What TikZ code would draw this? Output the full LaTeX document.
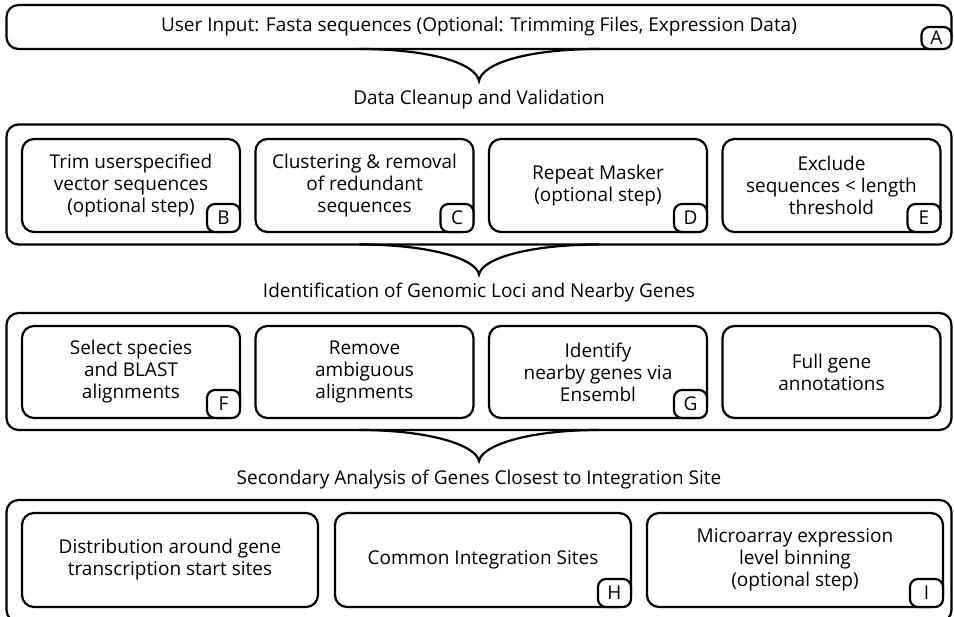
\documentclass[tikz,border=0pt]{standalone}
\usepackage{fontspec}
\setmainfont{Open Sans}
\begin{document}
\begin{tikzpicture}[x=1pt,y=-1pt,
 txt/.style={font=\fontsize{19}{22}\selectfont},
 outerbox/.style={draw, line width=2.2pt, rounded corners=12pt, inner sep=0pt, outer sep=0pt, minimum width=945pt, txt},
 box/.style={draw, line width=2.2pt, rounded corners=12pt, inner sep=0pt, outer sep=0pt, align=center, txt},
 lbl/.style={draw, fill=white, line width=2.2pt, rounded corners=8pt, minimum width=33pt, minimum height=28pt, inner sep=0pt, outer sep=0pt, anchor=south east, txt},
 brace/.style={line width=2.2pt}]
\clip (0,0) rectangle (954,617);
% outer boxes
\node[outerbox, minimum height=44pt] (o1) at (479,27) {User Input: Fasta sequences (Optional: Trimming Files, Expression Data)};
\node[outerbox, minimum height=120pt] (o2) at (479,184.5) {};
\node[outerbox, minimum height=117pt] (o3) at (479,371.5) {};
\node[outerbox, minimum height=122pt] (o4) at (479,561) {};
% titles
\node[txt] (t1) at (479,100) {Data Cleanup and Validation};
\node[txt] (t2) at (479,293) {Identification of Genomic Loci and Nearby Genes};
\node[txt] (t3) at (479,480) {Secondary Analysis of Genes Closest to Integration Site};
% braces
\coordinate (b1) at ([yshift=-32pt]o1.south);
\coordinate (b2) at ([yshift=-30pt]o2.south);
\coordinate (b3) at ([yshift=-31pt]o3.south);
\draw[brace] ([xshift=-120pt]o1.south) .. controls +(70,0) and +(-3,-18) .. (b1) .. controls +(3,-18) and +(-70,0) .. ([xshift=120pt]o1.south);
\draw[brace] ([xshift=-120pt]o2.south) .. controls +(70,0) and +(-3,-16) .. (b2) .. controls +(3,-16) and +(-70,0) .. ([xshift=120pt]o2.south);
\draw[brace] ([xshift=-120pt]o3.south) .. controls +(70,0) and +(-3,-16) .. (b3) .. controls +(3,-16) and +(-70,0) .. ([xshift=120pt]o3.south);
% row 2
\begin{scope}[every node/.append style={minimum width=218pt, minimum height=93pt}]
\node[box] (B) at (131,185.5) {Trim userspecified\\vector sequences\\(optional step)};
\node[box] (C) at (364.5,185.5) {Clustering \& removal\\of redundant\\sequences};
\node[box] (D) at (598,185.5) {Repeat Masker\\(optional step)};
\node[box] (E) at (831.5,185.5) {Exclude\\sequences < length\\threshold};
\end{scope}
% row 3
\begin{scope}[every node/.append style={minimum width=218pt, minimum height=92pt}]
\node[box] (F) at (131,372) {Select species\\and BLAST\\alignments};
\node[box] (R) at (364.5,372) {Remove\\ambiguous\\alignments};
\node[box] (G) at (598,372) {Identify\\nearby genes via\\Ensembl};
\node[box] (U) at (831.5,372) {Full gene\\annotations};
\end{scope}
% row 4
\begin{scope}[every node/.append style={minimum width=296pt, minimum height=94pt}]
\node[box] (S) at (170,560) {Distribution around gene\\transcription start sites};
\node[box] (H) at (483,560) {Common Integration Sites};
\node[box] (I) at (795,560) {Microarray expression\\level binning\\(optional step)};
\end{scope}
% letter labels
\node[lbl, minimum width=30pt, minimum height=22pt] (lA) at (o1.south east) {A};
\node[lbl] (lB) at (B.south east) {B};
\node[lbl] (lC) at (C.south east) {C};
\node[lbl] (lD) at (D.south east) {D};
\node[lbl] (lE) at (E.south east) {E};
\node[lbl] (lF) at (F.south east) {F};
\node[lbl] (lG) at (G.south east) {G};
\node[lbl] (lH) at (H.south east) {H};
\node[lbl] (lI) at (I.south east) {I};
\end{tikzpicture}
\end{document}
